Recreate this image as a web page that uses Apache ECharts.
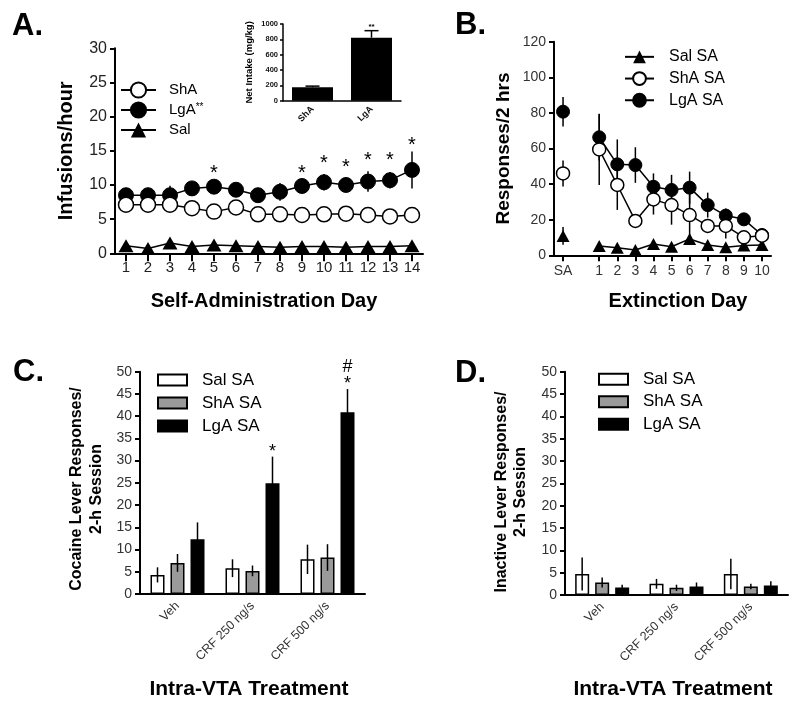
<!DOCTYPE html>
<html><head><meta charset="utf-8">
<script src="https://cdn.jsdelivr.net/npm/echarts@6/dist/echarts.min.js"></script>
<style>html,body{margin:0;padding:0;background:#fff}#c{width:800px;height:707px}</style>
</head><body><div id="c"></div>
<script>
// ---------------- DATA ----------------
// Panel A: Self-administration (infusions/hour)
const aDays = ['1','2','3','4','5','6','7','8','9','10','11','12','13','14'];
const aShA    = [7.1,7.1,7.1,6.6,6.1,6.7,5.7,5.7,5.6,5.7,5.8,5.6,5.4,5.6];
const aShAErr = [0.4,0.4,0.4,0.4,0.4,0.4,0.4,0.4,0.4,0.4,0.4,0.4,0.4,0.5];
const aLgA    = [8.5,8.5,8.5,9.5,9.75,9.3,8.5,9.0,9.85,10.4,10.0,10.5,10.7,12.2];
const aLgAErr = [0.6,0.6,1.4,0.8,0.8,0.6,0.6,1.3,0.8,1.2,1.0,1.5,1.2,2.7];
const aSal    = [1.1,0.7,1.5,1.0,1.2,1.1,1.0,0.9,1.0,1.0,0.9,1.0,1.0,1.1];
const aStarDays  = [4,8,9,10,11,12,13];           // category index (day-1)
const aStarLevel = [12.3,12.3,13.7,13.1,14.1,14.1,16.3];

// Inset: net intake (mg/kg)
const insetCats = ['ShA','LgA'];
const insetVals = [175,822];
const insetErr  = [15,91];

// Panel B: extinction
const bCats   = ['SA','','1','2','3','4','5','6','7','8','9','10'];
const bSal    = [10.9,null,5.2,4.3,3.0,6.3,4.8,9.2,5.8,4.5,5.5,5.8];
const bSalErr = [5,null,1.5,1.2,1.2,1.5,1.2,2,1.2,1,1,1];
const bShA    = [46,null,59.5,39.5,19.3,31.4,28.2,22.6,16.5,16.5,10.1,11];
const bShAErr = [7.3,null,20,14,2,8.5,11,14,4,7,2,3];
const bLgA    = [80.7,null,66.3,51.1,50.7,38.5,36.7,38,28.2,22.3,20.2,11.4];
const bLgAErr = [8.3,null,13,14,10,7.5,8.5,9,7,4,2,4];

// Panel C: cocaine lever responses
const treatCats = ['Veh','CRF 250 ng/s','CRF 500 ng/s'];
const cSal = [4.3,5.8,7.8],  cSalErr = [1.7,2.0,3.3];
const cShA = [7.0,5.2,8.2],  cShAErr = [2.0,1.2,3.0];
const cLgA = [12.3,24.9,40.9], cLgAErr = [3.8,6.0,5.2];
const cMarkCats = [1,2,2];
const cMarkText = ['*','*','#'];
const cMarkLevel = [0,0,1];

// Panel D: inactive lever responses
const dSal = [4.7,2.5,4.7], dSalErr = [3.7,1.1,3.4];
const dShA = [2.8,1.6,1.9], dShAErr = [1.1,0.7,0.6];
const dLgA = [1.7,1.9,2.1], dLgAErr = [0.6,0.9,1.0];

// ---------------- HELPERS ----------------
const FONT = '"Liberation Sans", Arial, Helvetica, sans-serif';
const BLACK = '#000';

function errSeries(ai, vals, errs, offset, lw, z, cap, upOnly) {
  const data = [];
  vals.forEach((v, i) => { if (v != null && errs[i] != null) data.push([i, v, errs[i]]); });
  return {
    type: 'custom', xAxisIndex: ai, yAxisIndex: ai, z: z, silent: true, data: data,
    renderItem: function (params, api) {
      const i = api.value(0), v = api.value(1), e = api.value(2);
      const pt = api.coord([i, v + e]);
      const pb = api.coord([i, upOnly ? v : v - e]);
      const x = pt[0] + offset;
      const ch = [{type: 'line', shape: {x1: x, y1: pt[1], x2: x, y2: pb[1]}, style: {stroke: BLACK, lineWidth: lw}}];
      if (cap) ch.push({type: 'line', shape: {x1: x - cap, y1: pt[1], x2: x + cap, y2: pt[1]}, style: {stroke: BLACK, lineWidth: lw}});
      return {type: 'group', children: ch};
    }
  };
}

function textSeries(ai, pts, texts, font, dxs, dys) {
  return {
    type: 'custom', xAxisIndex: ai, yAxisIndex: ai, z: 6, silent: true,
    data: pts.map((p, k) => [p[0], p[1], k]),
    renderItem: function (params, api) {
      const c = api.coord([api.value(0), api.value(1)]);
      const k = api.value(2);
      return {type: 'text', x: c[0] + dxs[k], y: c[1] + dys[k],
        style: {text: texts[k], font: font, textAlign: 'center', textVerticalAlign: 'middle', fill: BLACK}};
    }
  };
}

function valueAxis(gi, max, interval, fs, opts) {
  return Object.assign({
    type: 'value', gridIndex: gi, min: 0, max: max, interval: interval,
    splitLine: {show: false},
    axisLine: {show: true, lineStyle: {color: BLACK, width: 2}},
    axisTick: {show: true, length: 5, lineStyle: {color: BLACK, width: 2}},
    axisLabel: {fontFamily: FONT, fontSize: fs, color: '#222', margin: 8}
  }, opts || {});
}

function catAxis(gi, cats, opts) {
  return Object.assign({
    type: 'category', gridIndex: gi, data: cats, boundaryGap: true,
    axisLine: {show: true, lineStyle: {color: BLACK, width: 2}},
    axisTick: {show: false},
    splitLine: {show: false}
  }, opts || {});
}

const gridBase = {containLabel: false, outerBoundsMode: 'none'};

// ---------------- OPTION ----------------
const BW = 14, BGAP = 6;
const option = {
  animation: false,
  backgroundColor: '#fff',
  grid: [
    Object.assign({left: 115, top: 48.3, width: 308, height: 205}, gridBase),
    Object.assign({left: 283, top: 24, width: 118, height: 76.7}, gridBase),
    Object.assign({left: 554, top: 41.7, width: 217, height: 213.6}, gridBase),
    Object.assign({left: 140, top: 371.7, width: 225, height: 222.3}, gridBase),
    Object.assign({left: 565, top: 371.7, width: 223, height: 223.3}, gridBase)
  ],
  xAxis: [
    catAxis(0, aDays, {
      axisTick: {show: true, alignWithLabel: true, length: 8, lineStyle: {color: BLACK, width: 2}},
      axisLabel: {interval: 0, fontFamily: FONT, fontSize: 15, color: '#222', margin: 7}
    }),
    catAxis(1, insetCats, {
      axisLine: {show: true, lineStyle: {color: BLACK, width: 1.5}},
      axisLabel: {interval: 0, rotate: 45, fontFamily: FONT, fontSize: 9, fontWeight: 'bold', color: '#111', margin: 7}
    }),
    catAxis(2, bCats, {
      axisTick: {show: true, alignWithLabel: true, length: 6, interval: function (i, v) { return v !== ''; }, lineStyle: {color: BLACK, width: 2}},
      axisLabel: {interval: 0, fontFamily: FONT, fontSize: 14, color: '#333', margin: 9}
    }),
    catAxis(3, treatCats, {
      axisLabel: {interval: 0, rotate: 45, fontFamily: FONT, fontSize: 12.5, color: '#333', margin: 10}
    }),
    catAxis(4, treatCats, {
      axisLabel: {interval: 0, rotate: 45, fontFamily: FONT, fontSize: 12.5, color: '#333', margin: 10}
    })
  ],
  yAxis: [
    valueAxis(0, 30, 5, 16, {
      name: 'Infusions/hour', nameLocation: 'middle', nameGap: 39, nameRotate: 90,
      nameTextStyle: {fontFamily: FONT, fontSize: 20, fontWeight: 'bold', color: BLACK}
    }),
    valueAxis(1, 1000, 200, 7.5, {
      axisLine: {show: true, lineStyle: {color: BLACK, width: 1.5}},
      axisTick: {show: true, length: 3, lineStyle: {color: BLACK, width: 1.5}},
      axisLabel: {fontFamily: FONT, fontSize: 7.5, fontWeight: 'bold', color: '#111', margin: 5,
        formatter: function (v) { return String(v); }},
      name: 'Net Intake (mg/kg)', nameLocation: 'middle', nameGap: 29, nameRotate: 90,
      nameTextStyle: {fontFamily: FONT, fontSize: 9.5, fontWeight: 'bold', color: BLACK}
    }),
    valueAxis(2, 120, 20, 14, {
      axisLabel: {fontFamily: FONT, fontSize: 14, color: '#333', margin: 8},
      name: 'Responses/2 hrs', nameLocation: 'middle', nameGap: 41, nameRotate: 90,
      nameTextStyle: {fontFamily: FONT, fontSize: 19, fontWeight: 'bold', color: BLACK}
    }),
    valueAxis(3, 50, 5, 14, {axisLabel: {fontFamily: FONT, fontSize: 14, color: '#333', margin: 8}}),
    valueAxis(4, 50, 5, 14, {axisLabel: {fontFamily: FONT, fontSize: 14, color: '#333', margin: 8}})
  ],
  legend: [
    {
      orient: 'vertical', left: 115, top: 75, padding: 5, itemGap: 0, itemWidth: 35, itemHeight: 19, selectedMode: false,
      data: ['ShA', 'LgA', 'Sal'],
      formatter: function (n) { return n === 'LgA' ? 'LgA{s|**}' : n; },
      textStyle: {fontFamily: FONT, fontSize: 15, color: BLACK, lineHeight: 20, padding: [0, 0, 0, 8],
        rich: {s: {fontFamily: FONT, fontSize: 10, color: BLACK, padding: [0, 0, 6, 0]}}}
    },
    {
      orient: 'vertical', left: 619, top: 41, padding: 5, itemGap: 0, itemWidth: 29, itemHeight: 16, selectedMode: false,
      data: ['Sal SA', 'ShA SA', 'LgA SA'],
      textStyle: {fontFamily: FONT, fontSize: 16, color: BLACK, lineHeight: 21.7, padding: [0, 0, 0, 10]}
    },
    {
      orient: 'vertical', left: 152, top: 363.5, padding: 5, itemGap: 0, itemWidth: 29, itemHeight: 11, selectedMode: false,
      icon: 'rect',
      data: ['C:Sal SA', 'C:ShA SA', 'C:LgA SA'],
      formatter: function (n) { return n.split(':')[1]; },
      textStyle: {fontFamily: FONT, fontSize: 17, color: BLACK, lineHeight: 23, padding: [0, 0, 0, 10]}
    },
    {
      orient: 'vertical', left: 593, top: 363, padding: 5, itemGap: 0, itemWidth: 29, itemHeight: 11, selectedMode: false,
      icon: 'rect',
      data: ['D:Sal SA', 'D:ShA SA', 'D:LgA SA'],
      formatter: function (n) { return n.split(':')[1]; },
      textStyle: {fontFamily: FONT, fontSize: 17, color: BLACK, lineHeight: 22.5, padding: [0, 0, 0, 10]}
    }
  ],
  series: [
    // ---- Panel A ----
    errSeries(0, aLgA, aLgAErr, 0, 1.5, 1),
    errSeries(0, aShA, aShAErr, 0, 1.5, 1),
    {type: 'line', name: 'Sal', xAxisIndex: 0, yAxisIndex: 0, data: aSal, z: 2,
      symbol: 'triangle', symbolSize: [15, 13], itemStyle: {color: BLACK},
      lineStyle: {color: BLACK, width: 1.5}},
    {type: 'line', name: 'LgA', xAxisIndex: 0, yAxisIndex: 0, data: aLgA, z: 2,
      symbol: 'circle', symbolSize: 15, itemStyle: {color: BLACK, borderColor: BLACK, borderWidth: 1},
      lineStyle: {color: BLACK, width: 1.5}},
    {type: 'line', name: 'ShA', xAxisIndex: 0, yAxisIndex: 0, data: aShA, z: 3,
      symbol: 'circle', symbolSize: 15, itemStyle: {color: '#fff', borderColor: BLACK, borderWidth: 1.5},
      lineStyle: {color: BLACK, width: 1.5}},
    textSeries(0, aStarDays.map((d, k) => [d, aStarLevel[k]]), aStarDays.map(() => '*'),
      '20px ' + FONT, aStarDays.map(() => 0), aStarDays.map(() => 4)),
    // ---- Inset ----
    {type: 'bar', name: 'inset', xAxisIndex: 1, yAxisIndex: 1, data: insetVals, barWidth: 41, z: 2,
      itemStyle: {color: BLACK}},
    errSeries(1, insetVals, insetErr, 0, 1.5, 1, 7, true),
    textSeries(1, [[1, insetVals[1] + insetErr[1]]], ['**'], 'bold 8px ' + FONT, [0], [-4]),
    // ---- Panel B ----
    errSeries(2, bLgA, bLgAErr, 0, 1.5, 1),
    errSeries(2, bShA, bShAErr, 0, 1.5, 1),
    errSeries(2, bSal, bSalErr, 0, 1.5, 1),
    {type: 'line', name: 'Sal SA', xAxisIndex: 2, yAxisIndex: 2, data: bSal, z: 2, connectNulls: false,
      symbol: 'triangle', symbolSize: [13, 12], itemStyle: {color: BLACK},
      lineStyle: {color: BLACK, width: 1.5}},
    {type: 'line', name: 'LgA SA', xAxisIndex: 2, yAxisIndex: 2, data: bLgA, z: 2, connectNulls: false,
      symbol: 'circle', symbolSize: 13, itemStyle: {color: BLACK, borderColor: BLACK, borderWidth: 1},
      lineStyle: {color: BLACK, width: 1.5}},
    {type: 'line', name: 'ShA SA', xAxisIndex: 2, yAxisIndex: 2, data: bShA, z: 3, connectNulls: false,
      symbol: 'circle', symbolSize: 13, itemStyle: {color: '#fff', borderColor: BLACK, borderWidth: 1.5},
      lineStyle: {color: BLACK, width: 1.5}},
    // ---- Panel C ----
    {type: 'bar', name: 'C:Sal SA', xAxisIndex: 3, yAxisIndex: 3, data: cSal, barWidth: BW, barGap: (BGAP / BW * 100) + '%',
      itemStyle: {color: '#fff', borderColor: BLACK, borderWidth: 1.5}},
    {type: 'bar', name: 'C:ShA SA', xAxisIndex: 3, yAxisIndex: 3, data: cShA, barWidth: BW, barGap: (BGAP / BW * 100) + '%',
      itemStyle: {color: '#9a9a9a', borderColor: BLACK, borderWidth: 1.5}},
    {type: 'bar', name: 'C:LgA SA', xAxisIndex: 3, yAxisIndex: 3, data: cLgA, barWidth: BW, barGap: (BGAP / BW * 100) + '%',
      itemStyle: {color: BLACK, borderColor: BLACK, borderWidth: 1.5}},
    errSeries(3, cSal, cSalErr, -(BW + BGAP), 1.5, 4),
    errSeries(3, cShA, cShAErr, 0, 1.5, 4),
    errSeries(3, cLgA, cLgAErr, (BW + BGAP), 1.5, 4),
    textSeries(3, cMarkCats.map(c => [c, cLgA[c] + cLgAErr[c]]), cMarkText, '18px ' + FONT,
      cMarkCats.map(() => BW + BGAP), cMarkLevel.map(l => l === 0 ? -5 : -22)),
    // ---- Panel D ----
    {type: 'bar', name: 'D:Sal SA', xAxisIndex: 4, yAxisIndex: 4, data: dSal, barWidth: BW, barGap: (BGAP / BW * 100) + '%',
      itemStyle: {color: '#fff', borderColor: BLACK, borderWidth: 1.5}},
    {type: 'bar', name: 'D:ShA SA', xAxisIndex: 4, yAxisIndex: 4, data: dShA, barWidth: BW, barGap: (BGAP / BW * 100) + '%',
      itemStyle: {color: '#9a9a9a', borderColor: BLACK, borderWidth: 1.5}},
    {type: 'bar', name: 'D:LgA SA', xAxisIndex: 4, yAxisIndex: 4, data: dLgA, barWidth: BW, barGap: (BGAP / BW * 100) + '%',
      itemStyle: {color: BLACK, borderColor: BLACK, borderWidth: 1.5}},
    errSeries(4, dSal, dSalErr, -(BW + BGAP), 1.5, 4),
    errSeries(4, dShA, dShAErr, 0, 1.5, 4),
    errSeries(4, dLgA, dLgAErr, (BW + BGAP), 1.5, 4)
  ],
  graphic: [
    {type: 'text', x: 12, y: 26, style: {text: 'A.', font: 'bold 31px ' + FONT, fill: BLACK, textAlign: 'left', textVerticalAlign: 'middle'}},
    {type: 'text', x: 455, y: 25, style: {text: 'B.', font: 'bold 31px ' + FONT, fill: BLACK, textAlign: 'left', textVerticalAlign: 'middle'}},
    {type: 'text', x: 13, y: 372, style: {text: 'C.', font: 'bold 31px ' + FONT, fill: BLACK, textAlign: 'left', textVerticalAlign: 'middle'}},
    {type: 'text', x: 455, y: 373, style: {text: 'D.', font: 'bold 31px ' + FONT, fill: BLACK, textAlign: 'left', textVerticalAlign: 'middle'}},
    {type: 'text', x: 264, y: 301, style: {text: 'Self-Administration Day', font: 'bold 20px ' + FONT, fill: BLACK, textAlign: 'center', textVerticalAlign: 'middle'}},
    {type: 'text', x: 678, y: 301, style: {text: 'Extinction Day', font: 'bold 20px ' + FONT, fill: BLACK, textAlign: 'center', textVerticalAlign: 'middle'}},
    {type: 'text', x: 249, y: 689, style: {text: 'Intra-VTA Treatment', font: 'bold 21px ' + FONT, fill: BLACK, textAlign: 'center', textVerticalAlign: 'middle'}},
    {type: 'text', x: 673, y: 689, style: {text: 'Intra-VTA Treatment', font: 'bold 21px ' + FONT, fill: BLACK, textAlign: 'center', textVerticalAlign: 'middle'}},
    {type: 'text', x: 87, y: 489, rotation: Math.PI / 2, style: {text: 'Cocaine Lever Responses/\n2-h Session', font: 'bold 16px ' + FONT, lineHeight: 20, fill: BLACK, textAlign: 'center', textVerticalAlign: 'middle'}},
    {type: 'text', x: 511, y: 492, rotation: Math.PI / 2, style: {text: 'Inactive Lever Responses/\n2-h Session', font: 'bold 16px ' + FONT, lineHeight: 19, fill: BLACK, textAlign: 'center', textVerticalAlign: 'middle'}}
  ]
};

const chart = echarts.init(document.getElementById('c'), null, {renderer: 'canvas'});
chart.setOption(option);
</script>
</body></html>
